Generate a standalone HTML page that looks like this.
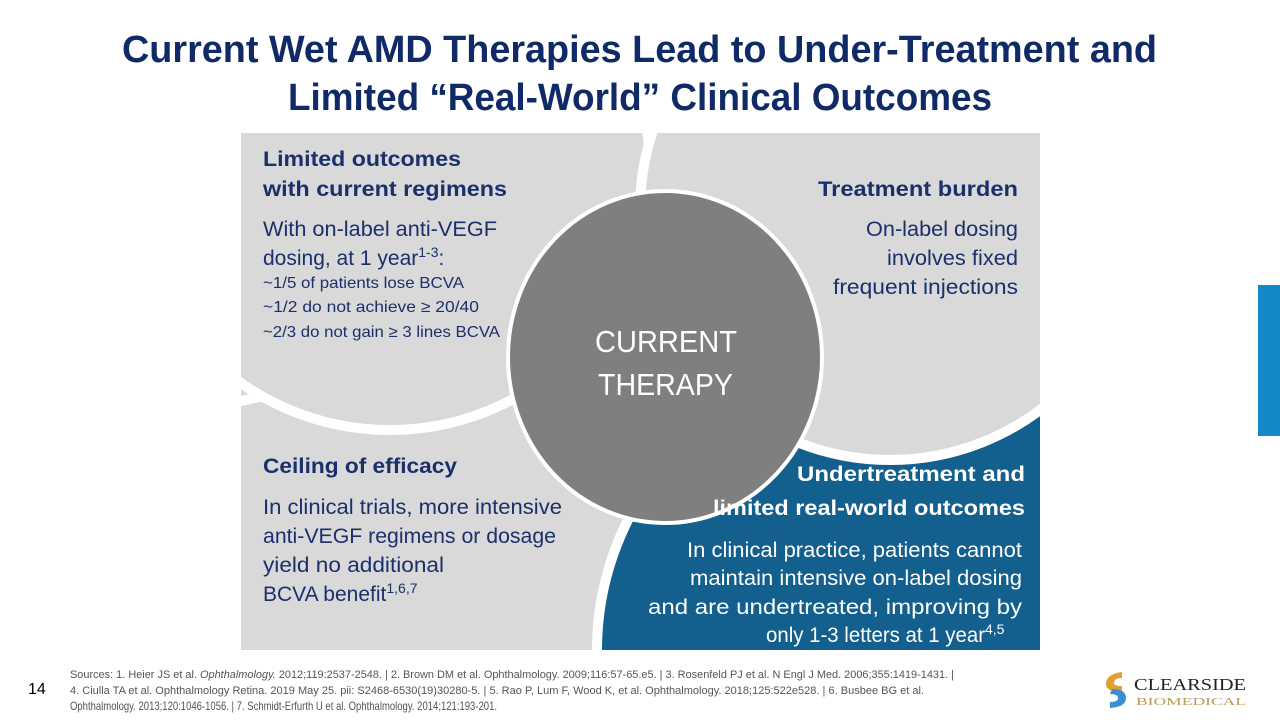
<!DOCTYPE html>
<html><head><meta charset="utf-8"><style>
html,body{margin:0;padding:0;background:#fff;width:1280px;height:720px;overflow:hidden;}
svg{display:block;font-family:"Liberation Sans",sans-serif;}
</style></head><body>
<svg width="1280" height="720" viewBox="0 0 1280 720">
<defs><clipPath id="pc"><rect x="241" y="133" width="799" height="517"/></clipPath></defs>
<g fill="#0f2a66" font-weight="bold" font-size="38">
<text x="122" y="62" textLength="1035" lengthAdjust="spacingAndGlyphs">Current Wet AMD Therapies Lead to Under-Treatment and</text>
<text x="288" y="110" textLength="704" lengthAdjust="spacingAndGlyphs">Limited “Real-World” Clinical Outcomes</text>
</g>
<g clip-path="url(#pc)">
<rect x="241" y="133" width="799" height="517" fill="#d9d9d9"/>
<circle cx="450" cy="1340" r="962" fill="#d9d9d9" stroke="#fff" stroke-width="10"/>
<circle cx="390" cy="170" r="260" fill="#d9d9d9" stroke="#fff" stroke-width="10"/>
<circle cx="885" cy="650" r="288" fill="#135f8e" stroke="#fff" stroke-width="10"/>
<circle cx="890" cy="210" r="250" fill="#d9d9d9" stroke="#fff" stroke-width="10"/>
<ellipse cx="665" cy="357" rx="157" ry="166" fill="#7f7f7f" stroke="#fff" stroke-width="4"/>
</g>
<g fill="#1b2f6b" font-size="21">
<text x="263" y="166" font-weight="bold" textLength="198" lengthAdjust="spacingAndGlyphs">Limited outcomes</text>
<text x="263" y="196" font-weight="bold" textLength="244" lengthAdjust="spacingAndGlyphs">with current regimens</text>
<text x="263" y="236" textLength="234" lengthAdjust="spacingAndGlyphs">With on-label anti-VEGF</text>
<text x="263" y="265">dosing, at 1 year<tspan font-size="14" dy="-8">1-3</tspan><tspan dy="8">:</tspan></text>
<text x="263" y="288" font-size="16" textLength="201" lengthAdjust="spacingAndGlyphs">~1/5 of patients lose BCVA</text>
<text x="263" y="312" font-size="16" textLength="216" lengthAdjust="spacingAndGlyphs">~1/2 do not achieve ≥ 20/40</text>
<text x="263" y="337" font-size="16" textLength="237" lengthAdjust="spacingAndGlyphs">~2/3 do not gain ≥ 3 lines BCVA</text>
<text x="818" y="196" font-weight="bold" textLength="200" lengthAdjust="spacingAndGlyphs">Treatment burden</text>
<text x="866" y="236" textLength="152" lengthAdjust="spacingAndGlyphs">On-label dosing</text>
<text x="887" y="265" textLength="131" lengthAdjust="spacingAndGlyphs">involves fixed</text>
<text x="833" y="294" textLength="185" lengthAdjust="spacingAndGlyphs">frequent injections</text>
<text x="263" y="473" font-weight="bold" textLength="194" lengthAdjust="spacingAndGlyphs">Ceiling of efficacy</text>
<text x="263" y="514" textLength="299" lengthAdjust="spacingAndGlyphs">In clinical trials, more intensive</text>
<text x="263" y="543" textLength="293" lengthAdjust="spacingAndGlyphs">anti-VEGF regimens or dosage</text>
<text x="263" y="572" textLength="181" lengthAdjust="spacingAndGlyphs">yield no additional</text>
<text x="263" y="601">BCVA benefit<tspan font-size="14" dy="-8">1,6,7</tspan></text>
</g>
<g fill="#fff" font-size="31">
<text x="595" y="352" textLength="142" lengthAdjust="spacingAndGlyphs">CURRENT</text>
<text x="598" y="395" textLength="135" lengthAdjust="spacingAndGlyphs">THERAPY</text>
</g>
<g fill="#fff" font-size="21">
<text x="797" y="481" font-weight="bold" textLength="228" lengthAdjust="spacingAndGlyphs">Undertreatment and</text>
<text x="713" y="515" font-weight="bold" textLength="312" lengthAdjust="spacingAndGlyphs">limited real-world outcomes</text>
<text x="687" y="557" textLength="335" lengthAdjust="spacingAndGlyphs">In clinical practice, patients cannot</text>
<text x="690" y="585" textLength="332" lengthAdjust="spacingAndGlyphs">maintain intensive on-label dosing</text>
<text x="648" y="614" textLength="374" lengthAdjust="spacingAndGlyphs">and are undertreated, improving by</text>
<text x="766" y="642"><tspan textLength="219" lengthAdjust="spacingAndGlyphs">only 1-3 letters at 1 year</tspan><tspan font-size="14" dy="-8">4,5</tspan></text>
</g>
<rect x="1258" y="285" width="22" height="151" fill="#1589c8"/>
<text x="28" y="694" font-size="16" fill="#000">14</text>
<g fill="#555" font-size="11">
<text x="70" y="678" textLength="884" lengthAdjust="spacingAndGlyphs">Sources: 1. Heier JS et al. <tspan font-style="italic">Ophthalmology.</tspan> 2012;119:2537-2548. | 2. Brown DM et al. Ophthalmology. 2009;116:57-65.e5. | 3. Rosenfeld PJ et al. N Engl J Med. 2006;355:1419-1431. |</text>
<text x="70" y="694" textLength="854" lengthAdjust="spacingAndGlyphs">4. Ciulla TA et al. Ophthalmology Retina. 2019 May 25. pii: S2468-6530(19)30280-5. | 5. Rao P, Lum F, Wood K, et al. Ophthalmology. 2018;125:522e528. | 6. Busbee BG et al.</text>
<text x="70" y="710" font-size="12" textLength="427" lengthAdjust="spacingAndGlyphs">Ophthalmology. 2013;120:1046-1056. | 7. Schmidt-Erfurth U et al. Ophthalmology. 2014;121:193-201.</text>
</g>
<g>
<path d="M1122 672 q-16 2 -16 12 q0 6 10 8 l6 0 l0 -6 q-8 0 -8 -3 q0 -5 8 -5z" fill="#e0a030"/>
<path d="M1112 689 q14 0 14 9 q0 9 -16 10 l0 -6 q8 0 8 -4 q0 -4 -8 -4z" fill="#3d8fd0"/>
<text x="1134" y="690" font-family="Liberation Serif,serif" font-size="17" fill="#222" textLength="112" lengthAdjust="spacingAndGlyphs">CLEARSIDE</text>
<text x="1136" y="705" font-family="Liberation Serif,serif" font-size="11" fill="#b99a5c" textLength="110" lengthAdjust="spacingAndGlyphs">BIOMEDICAL</text>
</g>
</svg>
</body></html>
